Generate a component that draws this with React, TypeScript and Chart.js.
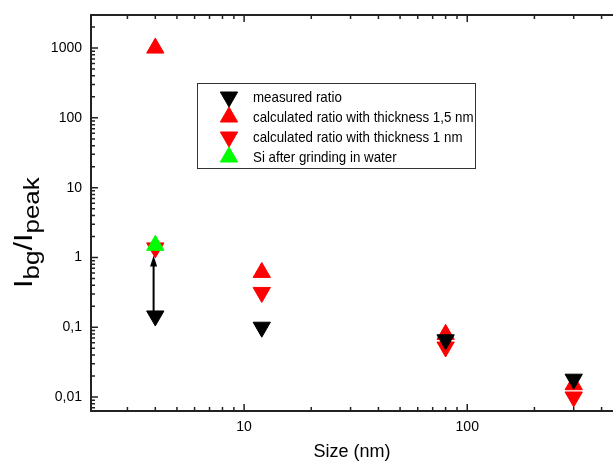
import React, { useEffect, useRef } from 'react';
import { Chart, registerables } from 'chart.js';
import { drawPoint } from 'chart.js/helpers';

Chart.register(...registerables);

// ---- data ----
const sizes = [4, 12, 80, 300];
const measuredRatio = [0.145, 0.1, 0.066, 0.018];
const calcRatio15 = [1000, 0.61, 0.079, 0.015];
const calcRatio1 = [1.37, 0.315, 0.052, 0.01];
const siSizes = [4];
const siGrinding = [1.49];
const arrowX = 3.93;
const arrowFrom = 0.16;
const arrowTo = 1.07;

const seriesLabels = [
  'measured ratio',
  'calculated ratio with thickness 1,5 nm',
  'calculated ratio with thickness 1 nm',
  'Si after grinding in water',
];
const xTitle = 'Size (nm)';

const X_MIN = 2.06;
const X_MAX = 450;
const Y_MIN = 0.0063;
const Y_MAX = 2980;

const FONT = "'Liberation Sans', Arial, Helvetica, sans-serif";
const AXIS_COLOR = '#222';

const pts = (xs: number[], ys: number[]) => xs.map((x, i) => ({ x, y: ys[i] }));

function logLabel(v: number): string {
  const l = Math.log10(v);
  const r = Math.round(l);
  if (Math.abs(l - r) > 1e-6) return '';
  if (r >= 0) return String(Math.pow(10, r));
  return '0,' + '0'.repeat(-r - 1) + '1';
}

function logTickValues(min: number, max: number) {
  const out: { v: number; major: boolean }[] = [];
  for (let e = Math.floor(Math.log10(min)); e <= Math.ceil(Math.log10(max)); e++) {
    for (let m = 1; m <= 9; m++) {
      const v = m * Math.pow(10, e);
      if (v >= min && v <= max) out.push({ v, major: m === 1 });
    }
  }
  return out;
}

const styleDefs = [
  { color: '#000000', rotation: 180 },
  { color: '#ff0000', rotation: 0 },
  { color: '#ff0000', rotation: 180 },
  { color: '#00ff00', rotation: 0 },
];

const decorPlugin = {
  id: 'decor',
  afterDraw(chart: any) {
    const { ctx, chartArea } = chart;
    const xs = chart.scales.x;
    const ys = chart.scales.y;

    // inward tick marks
    ctx.save();
    ctx.strokeStyle = AXIS_COLOR;
    ctx.lineWidth = 1.5;
    ctx.beginPath();
    for (const t of logTickValues(X_MIN, X_MAX)) {
      const px = xs.getPixelForValue(t.v);
      const len = t.major ? 7 : 4;
      ctx.moveTo(px, chartArea.bottom);
      ctx.lineTo(px, chartArea.bottom - len);
      ctx.moveTo(px, chartArea.top);
      ctx.lineTo(px, chartArea.top + len);
    }
    for (const t of logTickValues(Y_MIN, Y_MAX)) {
      const py = ys.getPixelForValue(t.v);
      const len = t.major ? 7 : 4;
      ctx.moveTo(chartArea.left, py);
      ctx.lineTo(chartArea.left + len, py);
    }
    ctx.stroke();
    ctx.restore();

    // arrow
    const ax = xs.getPixelForValue(arrowX);
    const ay0 = ys.getPixelForValue(arrowFrom);
    const ay1 = ys.getPixelForValue(arrowTo);
    ctx.save();
    ctx.strokeStyle = '#000';
    ctx.fillStyle = '#000';
    ctx.lineWidth = 2;
    ctx.beginPath();
    ctx.moveTo(ax, ay0);
    ctx.lineTo(ax, ay1 + 8);
    ctx.stroke();
    ctx.beginPath();
    ctx.moveTo(ax, ay1);
    ctx.lineTo(ax - 3.5, ay1 + 11);
    ctx.lineTo(ax + 3.5, ay1 + 11);
    ctx.closePath();
    ctx.fill();
    ctx.restore();

    // legend box
    const bx = 197.5, by = 83.5, bw = 278, bh = 85;
    ctx.save();
    ctx.fillStyle = '#fff';
    ctx.fillRect(bx, by, bw, bh);
    ctx.strokeStyle = '#333';
    ctx.lineWidth = 1;
    ctx.strokeRect(bx, by, bw, bh);
    const rowY = [97, 117, 137, 157];
    seriesLabels.forEach((lab, i) => {
      const st = styleDefs[i];
      ctx.fillStyle = st.color;
      ctx.strokeStyle = st.color;
      ctx.lineWidth = 1;
      drawPoint(ctx, { pointStyle: 'triangle', radius: 10, rotation: st.rotation, borderWidth: 1 } as any, 229, rowY[i]);
      ctx.save();
      ctx.translate(253, rowY[i] + 1);
      ctx.scale(0.9, 1);
      ctx.font = `14.8px ${FONT}`;
      ctx.textBaseline = 'middle';
      ctx.textAlign = 'left';
      ctx.fillStyle = '#000';
      ctx.fillText(lab, 0, 0);
      ctx.restore();
    });
    ctx.restore();

    // y title with subscripts
    ctx.save();
    ctx.translate(32, 288);
    ctx.rotate(-Math.PI / 2);
    ctx.scale(1.18, 1);
    ctx.fillStyle = '#000';
    ctx.textBaseline = 'alphabetic';
    ctx.textAlign = 'left';
    const parts: [string, number, number][] = [
      ['I', 26, 0],
      ['bg', 22, 7],
      ['/', 26, 0],
      ['I', 26, 0],
      ['peak', 22, 7],
    ];
    let cx = 0;
    for (const [t, sz, dy] of parts) {
      ctx.font = `${sz}px ${FONT}`;
      ctx.fillText(t, cx, dy);
      cx += ctx.measureText(t).width;
    }
    ctx.restore();
  },
};

export default function App() {
  const ref = useRef<HTMLCanvasElement | null>(null);
  useEffect(() => {
    if (!ref.current) return;
    Chart.defaults.font.family = FONT;
    const mk = (label: string, data: any[], i: number, order: number) => ({
      label,
      data,
      pointStyle: 'triangle',
      rotation: styleDefs[i].rotation,
      pointRadius: 10,
      pointHoverRadius: 10,
      pointBorderWidth: 1,
      backgroundColor: styleDefs[i].color,
      borderColor: styleDefs[i].color,
      showLine: false,
      order,
    });
    const chart = new Chart(ref.current, {
      type: 'scatter',
      data: {
        datasets: [
          mk(seriesLabels[0], pts(sizes, measuredRatio), 0, 1),
          mk(seriesLabels[1], pts(sizes, calcRatio15), 1, 3),
          mk(seriesLabels[2], pts(sizes, calcRatio1), 2, 2),
          mk(seriesLabels[3], pts(siSizes, siGrinding), 3, 0),
        ],
      },
      options: {
        animation: false,
        responsive: false,
        devicePixelRatio: 1,
        layout: { padding: 0, autoPadding: false },
        plugins: { legend: { display: false }, tooltip: { enabled: false } },
        scales: {
          x: {
            type: 'logarithmic',
            position: 'bottom',
            min: X_MIN,
            max: X_MAX,
            grid: { display: false, drawTicks: false },
            border: { display: true, color: AXIS_COLOR, width: 2 },
            ticks: {
              autoSkip: false,
              maxRotation: 0,
              padding: 8,
              color: '#000',
              font: { size: 14, family: FONT },
              callback: (v: any) => logLabel(Number(v)),
            },
            title: {
              display: true,
              text: xTitle,
              color: '#000',
              font: { size: 18, family: FONT },
              padding: { top: 0, bottom: 1 },
            },
            afterFit: (s: any) => { s.height = 53; s.paddingLeft = 0; s.paddingRight = 0; },
          },
          x2: {
            type: 'logarithmic',
            position: 'top',
            min: X_MIN,
            max: X_MAX,
            grid: { display: false, drawTicks: false },
            border: { display: true, color: AXIS_COLOR, width: 2 },
            ticks: { display: false },
            afterFit: (s: any) => { s.height = 15; s.paddingLeft = 0; s.paddingRight = 0; },
          },
          y: {
            type: 'logarithmic',
            position: 'left',
            min: Y_MIN,
            max: Y_MAX,
            grid: { display: false, drawTicks: false },
            border: { display: true, color: AXIS_COLOR, width: 2 },
            ticks: {
              autoSkip: false,
              padding: 9,
              color: '#000',
              font: { size: 14, family: FONT },
              callback: (v: any) => logLabel(Number(v)),
            },
            afterFit: (s: any) => { s.width = 91; s.paddingTop = 0; s.paddingBottom = 0; },
          },
        },
      } as any,
      plugins: [decorPlugin],
    });
    return () => chart.destroy();
  }, []);
  return (
    <div style={{ position: 'fixed', left: 0, top: 0, width: 613, height: 464, background: '#fff' }}>
      <canvas ref={ref} width={613} height={464} style={{ width: 613, height: 464, display: 'block' }} />
    </div>
  );
}
